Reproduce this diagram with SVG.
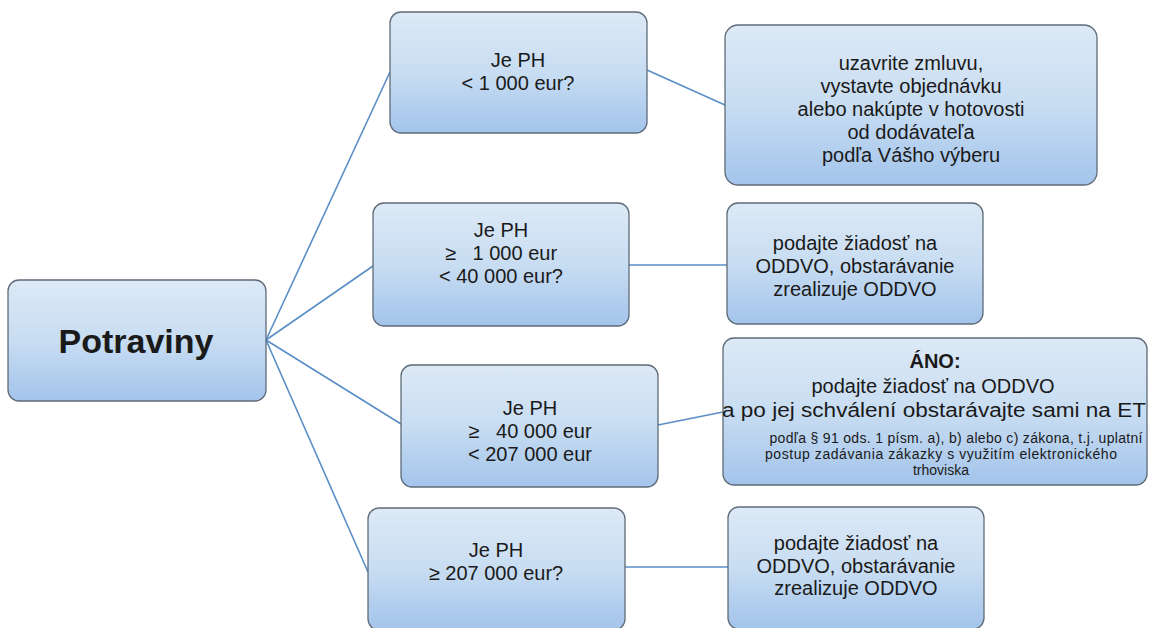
<svg xmlns="http://www.w3.org/2000/svg" width="1150" height="628" viewBox="0 0 1150 628">
  <defs>
    <linearGradient id="boxFill" x1="0" y1="0" x2="0" y2="1">
      <stop offset="0" stop-color="#dde9f6"/>
      <stop offset="0.5" stop-color="#c8ddf2"/>
      <stop offset="1" stop-color="#a3c4eb"/>
    </linearGradient>
  </defs>
  <style>
    .box { fill: url(#boxFill); stroke: #5f6b78; stroke-width: 1.3; }
    .link { stroke: #5a8ec6; stroke-width: 1.6; fill: none; }
    text { font-family: "Liberation Sans", Arial, sans-serif; fill: #1a1a1a; text-anchor: middle; }
    .t { font-size: 20px; }
    .big { font-size: 34px; font-weight: bold; }
    .b { font-weight: bold; }
    .s { font-size: 14px; }
  </style>

  <!-- connectors -->
  <g id="connectors">
    <line class="link" x1="266" y1="340" x2="390" y2="72"/>
    <line class="link" x1="266" y1="340" x2="373" y2="266"/>
    <line class="link" x1="266" y1="340" x2="401" y2="424"/>
    <line class="link" x1="266" y1="340" x2="368" y2="572"/>
    <line class="link" x1="647" y1="70" x2="725" y2="105"/>
    <line class="link" x1="629" y1="265" x2="727" y2="265"/>
    <line class="link" x1="658" y1="425" x2="723" y2="412"/>
    <line class="link" x1="625" y1="567" x2="728" y2="567"/>
  </g>

  <!-- root -->
  <g id="potraviny">
    <rect class="box" x="8" y="280" width="258" height="121" rx="11"/>
    <text class="big" x="136" y="353">Potraviny</text>
  </g>

  <!-- questions -->
  <g id="q1">
    <rect class="box" x="390" y="12" width="257" height="121" rx="11"/>
    <text class="t"><tspan x="518" y="67">Je PH</tspan><tspan x="518" y="90">&lt; 1 000 eur?</tspan></text>
  </g>
  <g id="q2">
    <rect class="box" x="373" y="203" width="256" height="123" rx="11"/>
    <text class="t" xml:space="preserve"><tspan x="501" y="237">Je PH</tspan><tspan x="501" y="260">≥   1 000 eur</tspan><tspan x="501" y="283">&lt; 40 000 eur?</tspan></text>
  </g>
  <g id="q3">
    <rect class="box" x="401" y="365" width="257" height="122" rx="11"/>
    <text class="t" xml:space="preserve"><tspan x="530" y="415">Je PH</tspan><tspan x="530" y="438">≥   40 000 eur</tspan><tspan x="530" y="461">&lt; 207 000 eur</tspan></text>
  </g>
  <g id="q4">
    <rect class="box" x="368" y="508" width="257" height="122" rx="11"/>
    <text class="t"><tspan x="496" y="557">Je PH</tspan><tspan x="496" y="580">≥ 207 000 eur?</tspan></text>
  </g>

  <!-- answers -->
  <g id="a1">
    <rect class="box" x="725" y="25" width="372" height="160" rx="13"/>
    <text class="t"><tspan x="911" y="70">uzavrite zmluvu,</tspan><tspan x="911" y="93">vystavte objednávku</tspan><tspan x="911" y="116">alebo nakúpte v hotovosti</tspan><tspan x="911" y="139">od dodávateľa</tspan><tspan x="911" y="162">podľa Vášho výberu</tspan></text>
  </g>
  <g id="a2">
    <rect class="box" x="727" y="203" width="256" height="121" rx="11"/>
    <text class="t"><tspan x="855" y="250">podajte žiadosť na</tspan><tspan x="855" y="273">ODDVO, obstarávanie</tspan><tspan x="855" y="296">zrealizuje ODDVO</tspan></text>
  </g>
  <g id="a3">
    <rect class="box" x="723" y="338" width="424" height="147" rx="11"/>
    <text class="t"><tspan class="b" x="935" y="368">ÁNO:</tspan><tspan x="933" y="393">podajte žiadosť na ODDVO</tspan><tspan x="934" y="417" textLength="424" lengthAdjust="spacingAndGlyphs">a po jej schválení obstarávajte sami na ET</tspan></text>
    <text class="s"><tspan x="956" y="443" textLength="373">podľa § 91 ods. 1 písm. a), b) alebo c) zákona, t.j. uplatní</tspan><tspan x="941" y="459" textLength="352">postup zadávania zákazky s využitím elektronického</tspan><tspan x="941" y="475">trhoviska</tspan></text>
  </g>
  <g id="a4">
    <rect class="box" x="728" y="507" width="256" height="122" rx="11"/>
    <text class="t"><tspan x="856" y="550">podajte žiadosť na</tspan><tspan x="856" y="572.5">ODDVO, obstarávanie</tspan><tspan x="856" y="595">zrealizuje ODDVO</tspan></text>
  </g>
</svg>
